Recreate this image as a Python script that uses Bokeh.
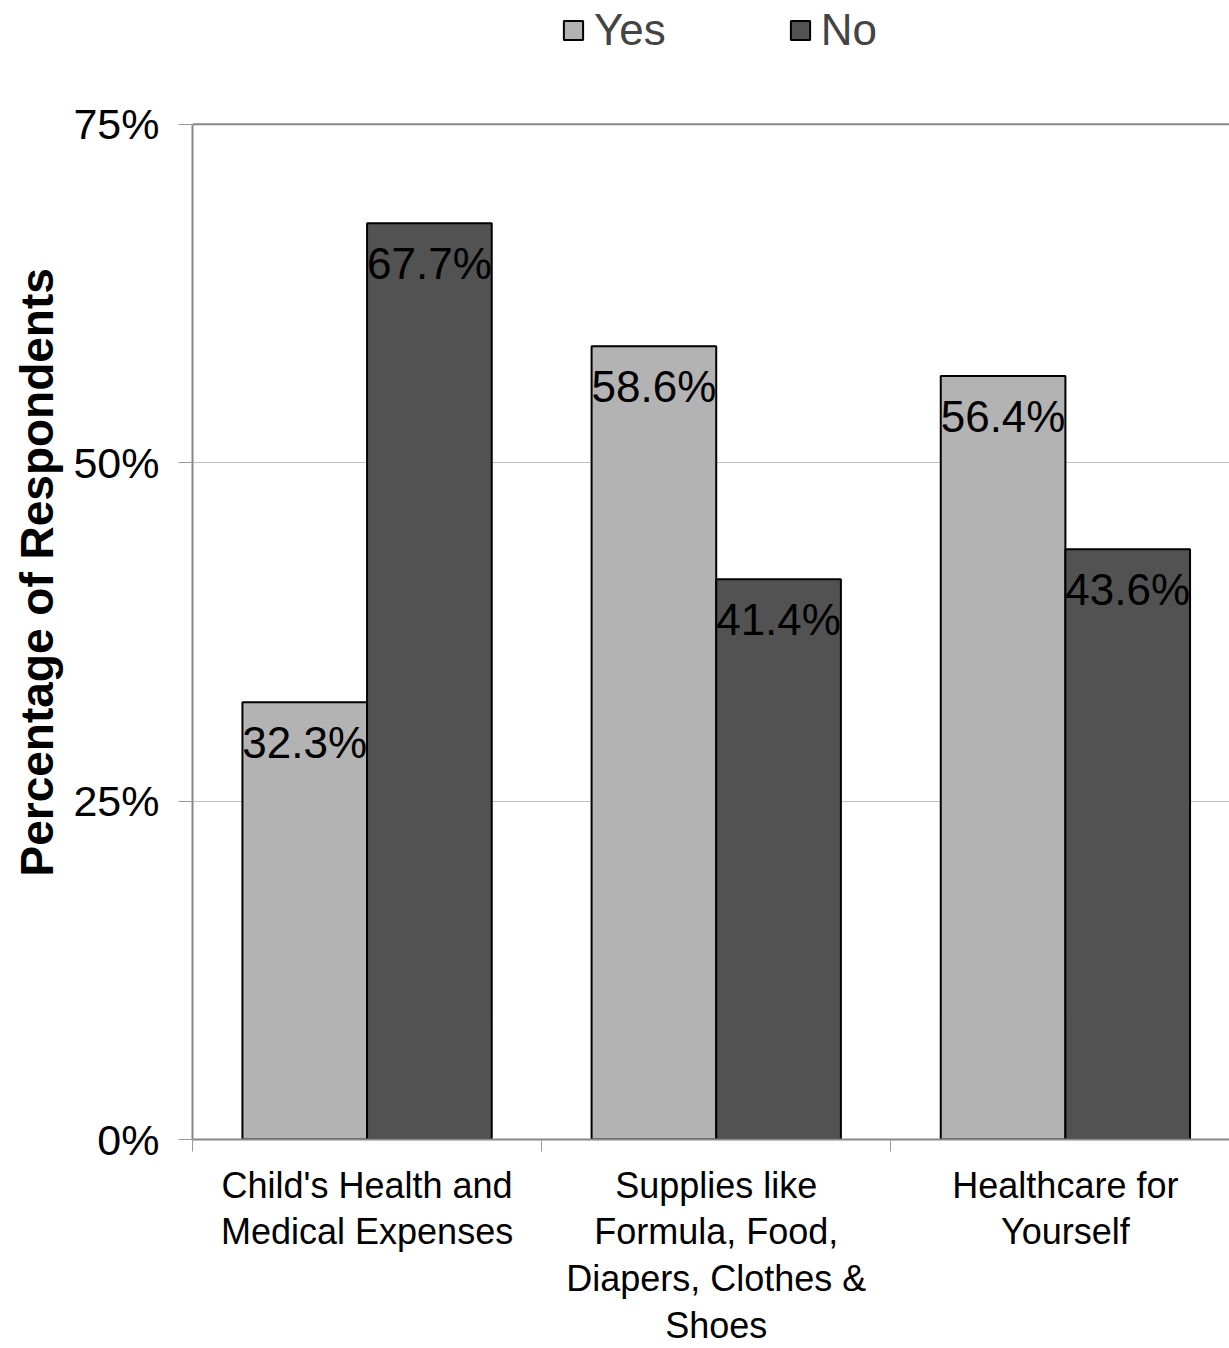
from bokeh.plotting import figure
from bokeh.models import (ColumnDataSource, Range1d, FixedTicker, NumeralTickFormatter,
                          Legend, LegendItem, Title, Span)
from bokeh.transform import dodge
from bokeh.core.properties import value
from bokeh.embed import file_html
from bokeh.resources import INLINE

categories = ["Child's Health and\nMedical Expenses",
              "Supplies like\nFormula, Food,\nDiapers, Clothes &\nShoes",
              "Healthcare for\nYourself"]
yes_vals = [0.323, 0.586, 0.564]
no_vals = [0.677, 0.414, 0.436]
yes_labels = ["32.3%", "58.6%", "56.4%"]
no_labels = ["67.7%", "41.4%", "43.6%"]
y_ticks = [0, 0.25, 0.5, 0.75]

FONT = "Liberation Sans"
xs = [i + 0.5 for i in range(len(categories))]
src = ColumnDataSource(dict(x=xs, yes=yes_vals, no=no_vals, yl=yes_labels, nl=no_labels))

# frame spans the full top of the canvas; the visible axis stops at 75%
p = figure(width=1229, height=1348, output_backend="svg", toolbar_location=None,
           x_range=Range1d(0, 2.970), y_range=Range1d(0, 0.8415),
           min_border_left=191, min_border_right=0, min_border_top=0, min_border_bottom=208)
p.outline_line_color = None
p.background_fill_color = "white"
p.border_fill_color = "white"

BW = 0.357
r_yes = p.vbar(x=dodge("x", -BW / 2, range=p.x_range), top="yes", width=BW, source=src,
               fill_color="#b3b3b3", line_color="black", line_width=2)
r_no = p.vbar(x=dodge("x", BW / 2, range=p.x_range), top="no", width=BW, source=src,
              fill_color="#525252", line_color="black", line_width=2)

p.text(x=dodge("x", -BW / 2, range=p.x_range), y="yes", text="yl", source=src,
       text_font=value(FONT), text_font_size="44px", text_align="center",
       text_baseline="top", y_offset=16, text_color="black")
p.text(x=dodge("x", BW / 2, range=p.x_range), y="no", text="nl", source=src,
       text_font=value(FONT), text_font_size="44px", text_align="center",
       text_baseline="top", y_offset=16, text_color="black")

# top frame line
p.add_layout(Span(location=0.75, dimension="width", line_color="#888888", line_width=2))

# y axis
p.yaxis.bounds = (0, 0.75)
p.yaxis.ticker = FixedTicker(ticks=y_ticks)
p.yaxis.formatter = NumeralTickFormatter(format="0%")
p.yaxis.major_label_text_font = FONT
p.yaxis.major_label_text_font_size = "43px"
p.yaxis.major_label_text_color = "black"
p.yaxis.axis_line_color = "#888888"
p.yaxis.axis_line_width = 2
p.yaxis.major_tick_line_color = "#999999"
p.yaxis.major_tick_out = 14
p.yaxis.major_tick_in = 0
p.yaxis.minor_tick_line_color = None
p.yaxis.major_label_standoff = 19

# x axis
p.xaxis.ticker = FixedTicker(ticks=xs, minor_ticks=[0, 1, 2, 3])
p.xaxis.major_label_overrides = {x: c for x, c in zip(xs, categories)}
p.xaxis.major_label_text_font = FONT
p.xaxis.major_label_text_font_size = "36px"
p.xaxis.major_label_text_line_height = 1.14
p.xaxis.major_label_text_color = "black"
p.xaxis.major_tick_line_color = None
p.xaxis.major_tick_out = 0
p.xaxis.major_tick_in = 0
p.xaxis.minor_tick_line_color = "#999999"
p.xaxis.minor_tick_out = 12
p.xaxis.minor_tick_in = 0
p.xaxis.axis_line_color = "#888888"
p.xaxis.axis_line_width = 2
p.xaxis.major_label_standoff = 13

p.xgrid.grid_line_color = None
p.ygrid.ticker = FixedTicker(ticks=[0.25, 0.5])
p.ygrid.grid_line_color = "#c0c0c0"
p.ygrid.grid_line_width = 1

# y title
p.add_layout(Title(text="Percentage of Respondents", align="left", offset=263,
                   text_font=FONT, text_font_size="46px", text_font_style="bold",
                   text_color="black", standoff=16), "left")

legend = Legend(items=[LegendItem(label="Yes", renderers=[r_yes]),
                       LegendItem(label="No", renderers=[r_no])],
                location=(369, 1084), orientation="horizontal",
                glyph_width=24, glyph_height=24, label_standoff=9, spacing=122,
                label_text_font=FONT, label_text_font_size="44px",
                padding=0, margin=0, border_line_color=None, background_fill_alpha=0)
p.add_layout(legend, "center")

open("out.html", "w").write(file_html(p, INLINE))
